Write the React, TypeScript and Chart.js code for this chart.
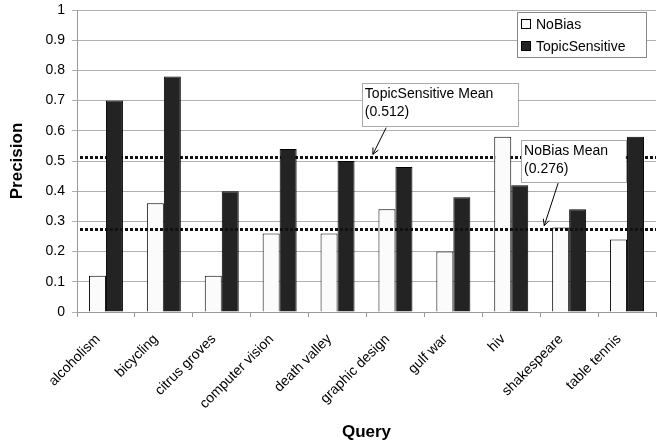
import React, { useEffect, useRef } from "react";
import { Chart, registerables } from "chart.js";

Chart.register(...registerables);

const categories = [
  "alcoholism",
  "bicycling",
  "citrus groves",
  "computer vision",
  "death valley",
  "graphic design",
  "gulf war",
  "hiv",
  "shakespeare",
  "table tennis",
];
const noBias = [0.12, 0.36, 0.12, 0.26, 0.26, 0.34, 0.2, 0.58, 0.28, 0.24];
const topicSensitive = [0.7, 0.78, 0.4, 0.54, 0.5, 0.48, 0.38, 0.42, 0.34, 0.58];
const seriesNames = ["NoBias", "TopicSensitive"];
const noBiasMean = 0.276;
const topicSensitiveMean = 0.512;
const noBiasMeanLabel = ["NoBias Mean", "(0.276)"];
const topicSensitiveMeanLabel = ["TopicSensitive Mean", "(0.512)"];
const yTickLabels = ["0", "0.1", "0.2", "0.3", "0.4", "0.5", "0.6", "0.7", "0.8", "0.9", "1"];
const xTitle = "Query";
const yTitle = "Precision";

const FONT = '"Liberation Sans", Arial, Helvetica, sans-serif';
const NOBIAS_FILL = "#fbfbfb";
const TS_FILL = "#232323";

function drawArrow(ctx: CanvasRenderingContext2D, x1: number, y1: number, x2: number, y2: number) {
  ctx.save();
  ctx.strokeStyle = "#000";
  ctx.lineWidth = 1;
  ctx.setLineDash([]);
  ctx.beginPath();
  ctx.moveTo(x1, y1);
  ctx.lineTo(x2, y2);
  ctx.stroke();
  const ang = Math.atan2(y2 - y1, x2 - x1);
  const len = 7;
  const spread = 0.45;
  ctx.beginPath();
  ctx.moveTo(x2 - len * Math.cos(ang - spread), y2 - len * Math.sin(ang - spread));
  ctx.lineTo(x2, y2);
  ctx.lineTo(x2 - len * Math.cos(ang + spread), y2 - len * Math.sin(ang + spread));
  ctx.stroke();
  ctx.restore();
}

function drawNoteBox(
  ctx: CanvasRenderingContext2D,
  l: number,
  t: number,
  r: number,
  b: number,
  lines: string[]
) {
  ctx.save();
  ctx.fillStyle = "#fff";
  ctx.fillRect(l, t, r - l, b - t);
  ctx.strokeStyle = "#555";
  ctx.lineWidth = 1;
  ctx.setLineDash([1, 1]);
  ctx.strokeRect(Math.round(l) + 0.5, Math.round(t) + 0.5, Math.round(r - l), Math.round(b - t));
  ctx.setLineDash([]);
  ctx.fillStyle = "#000";
  ctx.font = `14px ${FONT}`;
  ctx.textAlign = "left";
  ctx.textBaseline = "middle";
  lines.forEach((s, i) => ctx.fillText(s, l + 3, t + 11 + i * 18));
  ctx.restore();
}

function meanLine(chart: any, value: number) {
  const { ctx, chartArea: a, scales } = chart;
  const py = Math.round(scales.y.getPixelForValue(value));
  ctx.save();
  ctx.strokeStyle = "#111";
  ctx.lineWidth = 3;
  ctx.setLineDash([3, 2]);
  ctx.beginPath();
  ctx.moveTo(a.left + 3, py + 0.5);
  ctx.lineTo(a.right, py + 0.5);
  ctx.stroke();
  ctx.restore();
}

const overlayPlugin = {
  id: "overlay",
  beforeDatasetsDraw(chart: any) {
    meanLine(chart, topicSensitiveMean);
  },
  afterDatasetsDraw(chart: any) {
    meanLine(chart, noBiasMean);
  },
  afterDraw(chart: any) {
    const { ctx, chartArea: a, scales } = chart;
    const y = scales.y;
    const W = a.right - a.left;
    const fx = (f: number) => a.left + f * W;

    // TopicSensitive mean note
    const b1l = fx(0.492), b1r = fx(0.762);
    const b1t = y.getPixelForValue(0.758), b1b = y.getPixelForValue(0.617);
    drawArrow(ctx, fx(0.534), b1b + 2, fx(0.511), y.getPixelForValue(topicSensitiveMean) - 3);
    drawNoteBox(ctx, b1l, b1t, b1r, b1b, topicSensitiveMeanLabel);

    // NoBias mean note
    const b2l = fx(0.767), b2r = fx(0.948);
    const b2t = y.getPixelForValue(0.57), b2b = y.getPixelForValue(0.43);
    drawArrow(ctx, fx(0.831), b2b + 1, fx(0.807), y.getPixelForValue(noBiasMean) - 3);
    drawNoteBox(ctx, b2l, b2t, b2r, b2b, noBiasMeanLabel);

    // Legend
    const ll = Math.round(fx(0.76)), lr = Math.round(fx(0.983));
    const lt = Math.round(a.top + 2), lb = Math.round(a.top + 47);
    ctx.save();
    ctx.fillStyle = "#fff";
    ctx.fillRect(ll, lt, lr - ll, lb - lt);
    ctx.strokeStyle = "#888";
    ctx.lineWidth = 1;
    ctx.strokeRect(ll + 0.5, lt + 0.5, lr - ll, lb - lt);
    ctx.font = `14px ${FONT}`;
    ctx.textBaseline = "middle";
    ctx.textAlign = "left";
    const fills = [NOBIAS_FILL, TS_FILL];
    seriesNames.forEach((name, i) => {
      const cy = lt + 12 + i * 22;
      ctx.fillStyle = fills[i];
      ctx.fillRect(ll + 4, cy - 5, 9, 9);
      ctx.strokeStyle = "#000";
      ctx.strokeRect(ll + 4.5, cy - 4.5, 9, 9);
      ctx.fillStyle = "#000";
      ctx.fillText(name, ll + 19, cy + 1);
    });
    ctx.restore();
  },
};

export default function App() {
  const ref = useRef<HTMLCanvasElement | null>(null);
  useEffect(() => {
    if (!ref.current) return;
    const chart = new Chart(ref.current, {
      type: "bar",
      data: {
        labels: categories,
        datasets: [
          {
            label: seriesNames[0],
            data: noBias,
            backgroundColor: NOBIAS_FILL,
            borderColor: "#000",
            borderWidth: 1,
            categoryPercentage: 0.587,
            barPercentage: 1,
          },
          {
            label: seriesNames[1],
            data: topicSensitive,
            backgroundColor: TS_FILL,
            borderColor: "#000",
            borderWidth: 1,
            categoryPercentage: 0.587,
            barPercentage: 1,
          },
        ],
      },
      options: {
        responsive: false,
        animation: false,
        devicePixelRatio: 1,
        layout: { padding: { top: 10, right: 1, left: 0, bottom: 0 } },
        plugins: {
          legend: { display: false },
          tooltip: { enabled: false },
        },
        scales: {
          x: {
            grid: {
              display: true,
              drawOnChartArea: false,
              drawTicks: true,
              tickLength: 5,
              color: "#999",
            },
            border: { display: true, color: "#999" },
            ticks: {
              autoSkip: false,
              maxRotation: 45,
              minRotation: 45,
              padding: 14,
              labelOffset: -8,
              color: "#000",
              font: { family: FONT, size: 14 },
            },
            title: {
              display: true,
              text: xTitle,
              color: "#000",
              font: { family: FONT, size: 17, weight: "bold" },
              padding: { top: 0, bottom: 5 },
            },
            afterFit(scale: any) {
              scale.height = 136;
              scale.paddingLeft = 0;
              scale.paddingRight = 0;
            },
          },
          y: {
            min: 0,
            max: 1,
            ticks: {
              stepSize: 0.1,
              padding: 7,
              color: "#000",
              font: { family: FONT, size: 14 },
              callback: (_v: any, i: number) => yTickLabels[i],
            },
            grid: {
              color: "#b0b0b0",
              tickLength: 5,
              drawTicks: true,
            },
            border: { display: true, color: "#999" },
            title: {
              display: true,
              text: yTitle,
              color: "#000",
              font: { family: FONT, size: 17, weight: "bold" },
              padding: { top: 7, bottom: 0 },
            },
            afterFit(scale: any) {
              scale.width = 77;
              scale.paddingTop = 0;
              scale.paddingBottom = 0;
            },
          },
        },
      },
      plugins: [overlayPlugin],
    } as any);
    return () => chart.destroy();
  }, []);
  return (
    <div style={{ position: "absolute", left: 0, top: 0, width: 657, height: 448, background: "#fff" }}>
      <canvas ref={ref} width={657} height={448} style={{ display: "block" }} />
    </div>
  );
}
